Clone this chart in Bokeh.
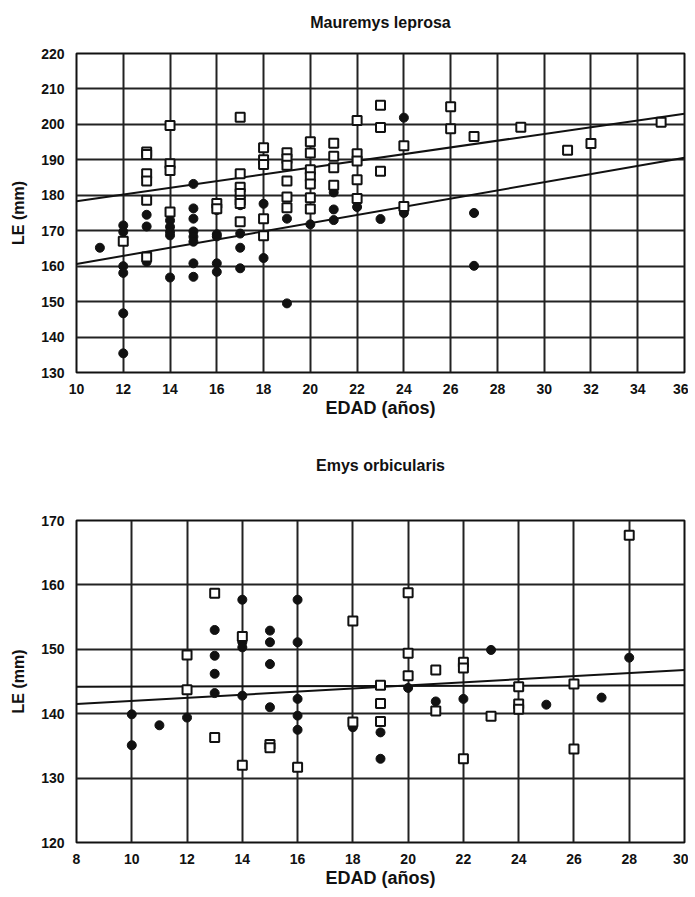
from bokeh.plotting import figure
from bokeh.layouts import column
from bokeh.models import FixedTicker, Range1d, Title
from bokeh.embed import file_html
from bokeh.resources import INLINE

# ---------------- Mauremys leprosa ----------------
ml_sq_x = [12,
           13, 13, 13, 13, 13, 13,
           14, 14, 14, 14,
           16, 16,
           17, 17, 17, 17, 17, 17, 17,
           18, 18, 18, 18, 18,
           19, 19, 19, 19, 19, 19,
           20, 20, 20, 20, 20, 20, 20,
           21, 21, 21, 21,
           22, 22, 22, 22, 22,
           23, 23, 23,
           24, 24,
           26, 26,
           27, 29, 31, 32, 35]
ml_sq_y = [167.0,
           192.2, 191.5, 186.1, 184.0, 178.6, 162.6,
           199.7, 188.9, 187.0, 175.3,
           177.7, 176.2,
           202.0, 186.1, 182.3, 180.5, 178.6, 177.7, 172.5,
           193.4, 190.0, 188.7, 173.4, 168.6,
           192.0, 190.3, 188.5, 184.0, 179.5, 176.5,
           195.1, 191.9, 187.2, 185.2, 183.2, 179.3, 176.1,
           194.7, 191.0, 187.8, 182.8,
           201.1, 191.7, 189.7, 184.4, 179.1,
           205.4, 199.1, 186.8,
           194.0, 176.8,
           205.0, 198.8,
           196.6, 199.2, 192.7, 194.6, 200.6]

ml_ci_x = [11,
           12, 12, 12, 12, 12, 12,
           13, 13, 13,
           14, 14, 14, 14, 14,
           15, 15, 15, 15, 15, 15, 15, 15,
           16, 16, 16, 16, 16,
           17, 17, 17, 17,
           18, 18,
           19, 19,
           20,
           21, 21, 21,
           22, 23,
           24, 24,
           27, 27]
ml_ci_y = [165.2,
           171.5, 169.7, 160.0, 158.1, 146.7, 135.4,
           174.5, 171.2, 161.2,
           172.9, 171.1, 169.7, 168.7, 156.8,
           183.2, 176.3, 173.4, 169.8, 168.3, 166.9, 160.8, 157.0,
           175.8, 169.0, 168.4, 160.8, 158.4,
           177.2, 169.2, 165.2, 159.4,
           177.6, 162.3,
           173.4, 149.5,
           171.8,
           180.8, 176.0, 173.0,
           176.7, 173.3,
           201.9, 175.0,
           175.0, 160.1]

ml_fit_x = [10, 36]
ml_fit_sq = [178.3, 203.0]
ml_fit_ci = [160.6, 190.6]

ml_xticks = [10, 12, 14, 16, 18, 20, 22, 24, 26, 28, 30, 32, 34, 36]
ml_yticks = [130, 140, 150, 160, 170, 180, 190, 200, 210, 220]

# ---------------- Emys orbicularis ----------------
eo_sq_x = [12, 12,
           13, 13,
           14, 14,
           15, 15,
           16,
           18, 18,
           19, 19, 19,
           20, 20, 20,
           21, 21,
           22, 22, 22,
           23,
           24, 24, 24,
           26, 26,
           28]
eo_sq_y = [149.1, 143.7,
           158.7, 136.3,
           152.0, 132.0,
           135.2, 134.7,
           131.7,
           154.4, 138.7,
           144.4, 141.6, 138.8,
           158.8, 149.4, 145.9,
           146.8, 140.4,
           148.0, 147.1, 133.0,
           139.6,
           144.2, 141.5, 140.7,
           144.6, 134.5,
           167.7]

eo_ci_x = [10, 10,
           11,
           12,
           13, 13, 13, 13,
           14, 14, 14, 14,
           15, 15, 15, 15,
           16, 16, 16, 16, 16,
           18,
           19, 19,
           20,
           21,
           22,
           23,
           25,
           27,
           28]
eo_ci_y = [139.9, 135.1,
           138.2,
           139.4,
           153.0, 149.0, 146.2, 143.2,
           157.7, 151.1, 150.3, 142.8,
           152.9, 151.1, 147.7, 141.0,
           157.7, 151.1, 142.3, 139.7, 137.5,
           137.9,
           137.1, 133.0,
           144.0,
           141.9,
           142.3,
           149.9,
           141.4,
           142.5,
           148.7]

eo_fit_x = [8, 30]
eo_fit_sloped = [141.5, 146.8]
eo_fit_flat = [144.2, 144.4]

eo_xticks = [8, 10, 12, 14, 16, 18, 20, 22, 24, 26, 28, 30]
eo_yticks = [120, 130, 140, 150, 160, 170]

FONT = "Liberation Sans"


def make_fig(title, xr, yr, xticks, yticks, height, btop, bbottom, gap):
    p = figure(width=688, height=height,
               x_range=Range1d(*xr), y_range=Range1d(*yr),
               output_backend="svg", toolbar_location=None,
               min_border_left=76, min_border_right=4,
               min_border_top=btop, min_border_bottom=bbottom,
               background_fill_color="white", border_fill_color="white")
    p.title.text = title
    p.title.align = "center"
    p.title.text_font = FONT
    p.title.text_font_style = "bold"
    p.title.text_font_size = "16px"
    p.title.text_color = "#111111"
    p.title.standoff = 20
    # blank spacer between the frame and the title
    p.add_layout(Title(text=" ", text_font_size="1px", standoff=gap), "above")

    p.outline_line_color = "#111111"
    p.outline_line_width = 2

    for ax, ticks in ((p.xaxis, xticks), (p.yaxis, yticks)):
        ax.ticker = FixedTicker(ticks=ticks)
        ax.axis_line_color = None
        ax.major_tick_line_color = None
        ax.minor_tick_line_color = None
        ax.major_label_text_font = FONT
        ax.major_label_text_font_style = "bold"
        ax.major_label_text_font_size = "14px"
        ax.major_label_text_color = "#111111"
        ax.axis_label_text_font = FONT
        ax.axis_label_text_font_style = "bold"
        ax.axis_label_text_color = "#111111"

    p.xaxis.axis_label = "EDAD (años)"
    p.yaxis.axis_label = "LE (mm)"
    p.xaxis.axis_label_text_font_size = "18px"
    p.yaxis.axis_label_text_font_size = "16px"
    p.xaxis.major_label_standoff = 5
    p.yaxis.major_label_standoff = 6
    p.xaxis.axis_label_standoff = 1
    p.yaxis.axis_label_standoff = 11

    p.xgrid.ticker = FixedTicker(ticks=xticks)
    p.ygrid.ticker = FixedTicker(ticks=yticks)
    for g in (p.xgrid, p.ygrid):
        g.grid_line_color = "#222222"
        g.grid_line_width = 2
        g.grid_line_alpha = 1.0
    return p


p1 = make_fig("Mauremys leprosa", (10, 36), (130, 220), ml_xticks, ml_yticks,
              440, 53, 68, 10)
p1.line(ml_fit_x, ml_fit_sq, line_color="#111111", line_width=2)
p1.line(ml_fit_x, ml_fit_ci, line_color="#111111", line_width=2)
p1.scatter(ml_ci_x, ml_ci_y, marker="circle", size=9,
           fill_color="#111111", line_color="#111111")
p1.scatter(ml_sq_x, ml_sq_y, marker="square", size=9,
           fill_color="white", line_color="#111111", line_width=2)

p2 = make_fig("Emys orbicularis", (8, 30), (120, 170), eo_xticks, eo_yticks,
              452, 80, 50, 34)
p2.line(eo_fit_x, eo_fit_sloped, line_color="#111111", line_width=2)
p2.line(eo_fit_x, eo_fit_flat, line_color="#111111", line_width=2)
p2.scatter(eo_ci_x, eo_ci_y, marker="circle", size=9,
           fill_color="#111111", line_color="#111111")
p2.scatter(eo_sq_x, eo_sq_y, marker="square", size=9,
           fill_color="white", line_color="#111111", line_width=2)

layout = column(p1, p2, spacing=0)

with open("out.html", "w") as f:
    f.write(file_html(layout, INLINE))
